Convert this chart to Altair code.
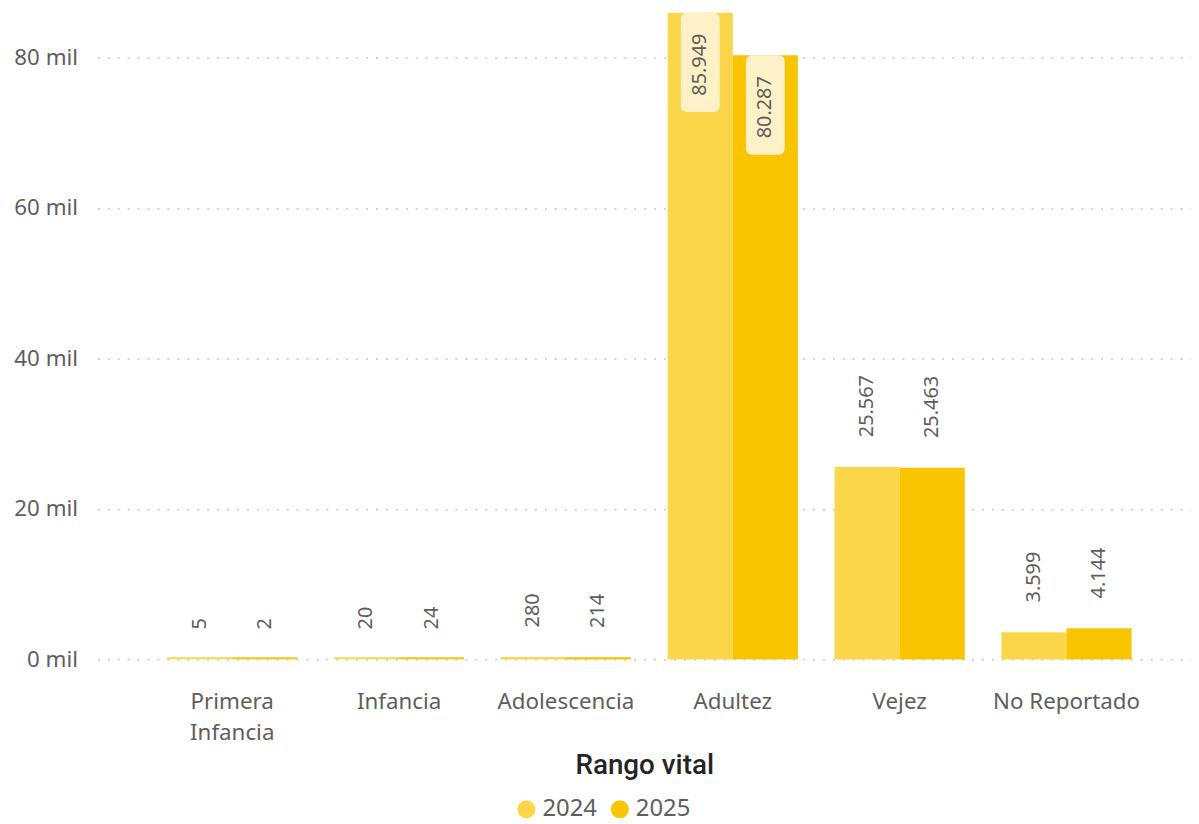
import altair as alt
import pandas as pd

categories = ["Primera Infancia", "Infancia", "Adolescencia", "Adultez", "Vejez", "No Reportado"]
series = ["2024", "2025"]
values_2024 = [5, 20, 280, 85949, 25567, 3599]
values_2025 = [2, 24, 214, 80287, 25463, 4144]
y_ticks = [0, 20000, 40000, 60000, 80000]

rows = []
for c, a, b in zip(categories, values_2024, values_2025):
    rows.append({"cat": c, "year": series[0], "value": a})
    rows.append({"cat": c, "year": series[1], "value": b})
df = pd.DataFrame(rows)
df["label"] = df["value"].map(lambda v: f"{v:,}".replace(",", "."))
y_max = max(values_2024 + values_2025)
df["inside"] = df["value"] > 0.5 * y_max

FONT = "Noto Sans"
GRAY = "#605E5C"
colors = ["#FCD64A", "#F8C500"]

x = alt.X(
    "cat:N",
    sort=categories,
    scale=alt.Scale(paddingInner=0.22, paddingOuter=0.387, align=0.54),
    axis=alt.Axis(
        title="Rango vital",
        labelExpr="length(datum.label) > 13 ? split(datum.label, ' ') : datum.label",
        labelAngle=0,
        labelFont=FONT,
        labelFontSize=22.5,
        labelColor=GRAY,
        labelPadding=31,
        labelLineHeight=32,
        labelBaseline="top",
        ticks=False,
        domain=False,
        grid=False,
        titleFont="Roboto",
        titleFontWeight=500,
        titleFontSize=28,
        titleColor="#252423",
        titlePadding=7,
    ),
)
xoff = alt.XOffset("year:N", sort=series, scale=alt.Scale(paddingInner=0, paddingOuter=0))
y = alt.Y(
    "value:Q",
    scale=alt.Scale(domain=[0, y_max], nice=False, zero=True),
    axis=alt.Axis(
        values=y_ticks,
        labelExpr="format(datum.value / 1000, 'd') + ' mil'",
        title=None,
        labelFont=FONT,
        labelFontSize=22.5,
        labelColor=GRAY,
        labelPadding=20,
        ticks=False,
        domain=False,
        grid=True,
        gridDash=[2, 8],
        gridColor="#C8C6C4",
        gridWidth=1.5,
    ),
)
color = alt.Color(
    "year:N",
    sort=series,
    scale=alt.Scale(domain=series, range=colors),
    legend=alt.Legend(
        title=None,
        orient="none",
        legendX=420,
        legendY=790,
        direction="horizontal",
        symbolType="circle",
        symbolSize=330,
        symbolStrokeWidth=0,
        labelFont=FONT,
        labelFontSize=24,
        labelColor=GRAY,
        labelOffset=4,
        columnPadding=11,
    ),
)

base = alt.Chart(df).encode(x=x, xOffset=xoff)

bars = base.mark_bar().encode(y=y, color=color)
minbars = base.mark_bar(yOffset=-2).encode(
    y=alt.datum(0), y2=alt.datum(0), color=alt.Color("year:N", legend=None)
)
labels_out = base.transform_filter("!datum.inside").mark_text(
    angle=270, align="left", baseline="middle", dx=30, fontSize=20, font=FONT, color=GRAY
).encode(y=alt.Y("value:Q"), text="label:N")
boxes = base.transform_filter("datum.inside").mark_bar(
    width=39, cornerRadius=6, color="#FEF0C7", y2Offset=100
).encode(y=alt.Y("value:Q"), y2=alt.Y2("value"))
labels_in = base.transform_filter("datum.inside").mark_text(
    angle=270, align="right", baseline="middle", dx=-21, fontSize=20, font=FONT, color=GRAY
).encode(y=alt.Y("value:Q"), text="label:N")

chart = (
    alt.layer(bars, minbars, labels_out, boxes, labels_in)
    .properties(
        width=1101,
        height=651,
        background="white",
        padding={"left": 5, "top": 2, "right": 0, "bottom": 0},
    )
    .configure_view(strokeWidth=0, stroke="transparent")
    .configure_axis(domain=False, ticks=False)
)

chart.save("out.html", embed_options={"renderer": "svg", "actions": False})
